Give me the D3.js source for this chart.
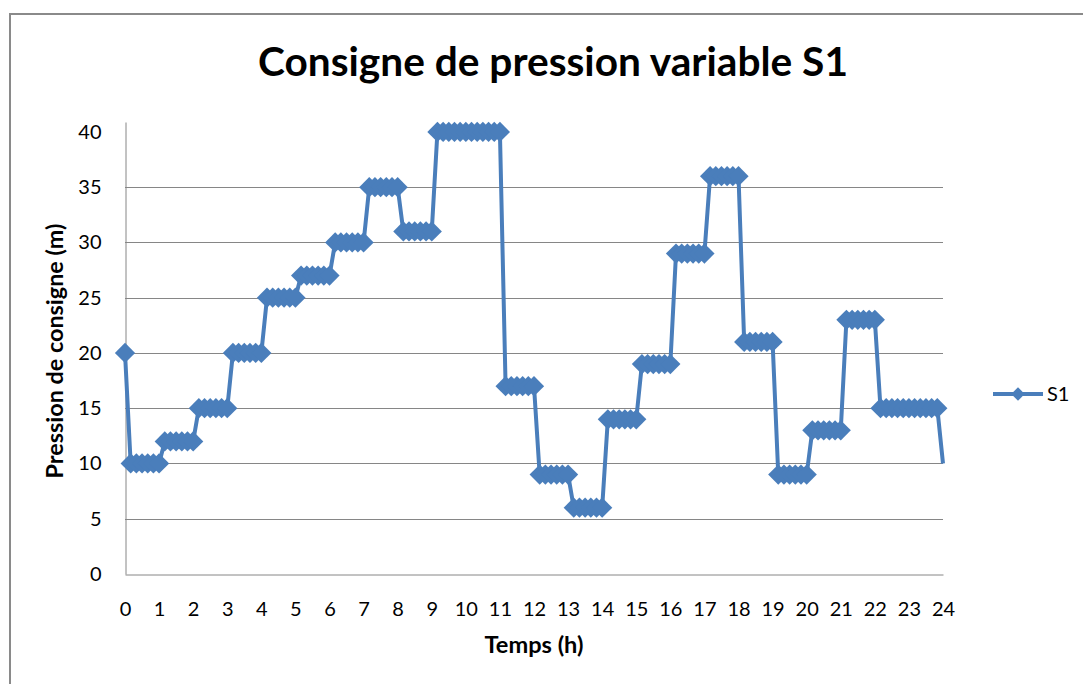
<!DOCTYPE html>
<html>
<head>
<meta charset="utf-8">
<script src="https://cdn.jsdelivr.net/npm/d3@7"></script>
<style>
body { margin: 0; background: #fff; }
svg { display: block; }
text { font-family: Lato, "Open Sans", sans-serif; fill: #000; }
</style>
</head>
<body>
<svg id="chart" width="1083" height="684"></svg>
<script>
TITLE = "Consigne de pression variable S1"
X_TITLE = "Temps (h)"
Y_TITLE = "Pression de consigne (m)"
SERIES_NAME = "S1"
STEPS_PER_HOUR = 6   // one reading every 10 minutes
LINE_COLOR = "#4a7ebb"
AXIS_COLOR = "#868686"

var hourTicks = [0, 1, 2, 3, 4, 5, 6, 7, 8, 9, 10, 11, 12, 13, 14, 15, 16, 17, 18, 19, 20, 21, 22, 23, 24];
var pressureTicks = [0, 5, 10, 15, 20, 25, 30, 35, 40];
var gridTicks = [5, 10, 15, 20, 25, 30, 35];

/* S1 setpoint, read every 10 min from 0h to 24h */
var s1 = [
    20,
    10, 10, 10, 10, 10, 10,   // 0-1
    12, 12, 12, 12, 12, 12,   // 1-2
    15, 15, 15, 15, 15, 15,   // 2-3
    20, 20, 20, 20, 20, 20,   // 3-4
    25, 25, 25, 25, 25, 25,   // 4-5
    27, 27, 27, 27, 27, 27,   // 5-6
    30, 30, 30, 30, 30, 30,   // 6-7
    35, 35, 35, 35, 35, 35,   // 7-8
    31, 31, 31, 31, 31, 31,   // 8-9
    40, 40, 40, 40, 40, 40,   // 9-10
    40, 40, 40, 40, 40, 40,   // 10-11
    17, 17, 17, 17, 17, 17,   // 11-12
    9, 9, 9, 9, 9, 9,         // 12-13
    6, 6, 6, 6, 6, 6,         // 13-14
    14, 14, 14, 14, 14, 14,   // 14-15
    19, 19, 19, 19, 19, 19,   // 15-16
    29, 29, 29, 29, 29, 29,   // 16-17
    36, 36, 36, 36, 36, 36,   // 17-18
    21, 21, 21, 21, 21, 21,   // 18-19
    9, 9, 9, 9, 9, 9,         // 19-20
    13, 13, 13, 13, 13, 13,   // 20-21
    23, 23, 23, 23, 23, 23,   // 21-22
    15, 15, 15, 15, 15, 15,   // 22-23
    15, 15, 15, 15, 15, 10    // 23-24
];

var svg = d3.select("#chart");

var x = d3.scaleLinear().domain([0, 24]).range([125, 943]);
var y = d3.scaleLinear().domain([0, 40.9]).range([574, 122]);

// outer chart frame
svg.append("rect")
    .attr("x", 10).attr("y", 14)
    .attr("width", 1100).attr("height", 700)
    .attr("fill", "none")
    .attr("stroke", "#8a8a8a")
    .attr("stroke-width", 2);

function fitWidth(sel, width) {
    var w = sel.node().getComputedTextLength();
    var fs = parseFloat(sel.style("font-size"));
    sel.style("font-size", (fs * width / w) + "px");
}

// title
var title = svg.append("text")
    .attr("x", 553).attr("y", 76)
    .attr("text-anchor", "middle")
    .style("font-weight", "bold")
    .style("font-size", "40px")
    .text(TITLE);
fitWidth(title, 590);

// gridlines
svg.append("g")
    .selectAll("line")
    .data(gridTicks)
    .join("line")
    .attr("x1", x(0)).attr("x2", x(24))
    .attr("y1", function(d) { return Math.round(y(d)) + 0.5; })
    .attr("y2", function(d) { return Math.round(y(d)) + 0.5; })
    .attr("stroke", AXIS_COLOR)
    .attr("stroke-width", 1);

// axes
var yAxis = svg.append("g")
    .attr("transform", "translate(125.5,0)")
    .call(d3.axisLeft(y).tickValues(pressureTicks).tickSize(0).tickPadding(24));
var xAxis = svg.append("g")
    .attr("transform", "translate(0,574.5)")
    .call(d3.axisBottom(x).tickValues(hourTicks).tickSize(0).tickPadding(27));
[xAxis, yAxis].forEach(function(ax) {
    ax.select(".domain").attr("stroke", AXIS_COLOR);
    ax.selectAll("text")
        .style("font-family", "Lato, 'Open Sans', sans-serif")
        .style("font-size", "20px")
        .attr("fill", "#000");
});

// axis titles
var xTitle = svg.append("text")
    .attr("x", 534).attr("y", 653)
    .attr("text-anchor", "middle")
    .style("font-weight", "bold")
    .style("font-size", "18px")
    .text(X_TITLE);
fitWidth(xTitle, 99);
var yTitle = svg.append("text")
    .attr("transform", "translate(63,351) rotate(-90)")
    .attr("text-anchor", "middle")
    .style("font-weight", "bold")
    .style("font-size", "18px")
    .text(Y_TITLE);
fitWidth(yTitle, 255);

// series
var line = d3.line()
    .x(function(d, i) { return x(i / STEPS_PER_HOUR); })
    .y(function(d) { return y(d); });
svg.append("path")
    .datum(s1)
    .attr("d", line)
    .attr("fill", "none")
    .attr("stroke", LINE_COLOR)
    .attr("stroke-width", 4)
    .attr("stroke-linejoin", "round");

var diamond = d3.symbol(d3.symbolSquare, 205);
svg.append("g")
    .selectAll("path")
    .data(s1.slice(0, -1))
    .join("path")
    .attr("d", diamond)
    .attr("transform", function(d, i) {
        return "translate(" + x(i / STEPS_PER_HOUR) + "," + y(d) + ") rotate(45)";
    })
    .attr("fill", LINE_COLOR);

// legend
var legend = svg.append("g").attr("transform", "translate(993,394)");
legend.append("line")
    .attr("x1", 0).attr("x2", 50)
    .attr("stroke", LINE_COLOR)
    .attr("stroke-width", 4);
legend.append("path")
    .attr("d", d3.symbol(d3.symbolSquare, 90))
    .attr("transform", "translate(25,0) rotate(45)")
    .attr("fill", LINE_COLOR);
legend.append("text")
    .attr("x", 54).attr("y", 7)
    .style("font-size", "20px")
    .text(SERIES_NAME);
</script>
</body>
</html>
